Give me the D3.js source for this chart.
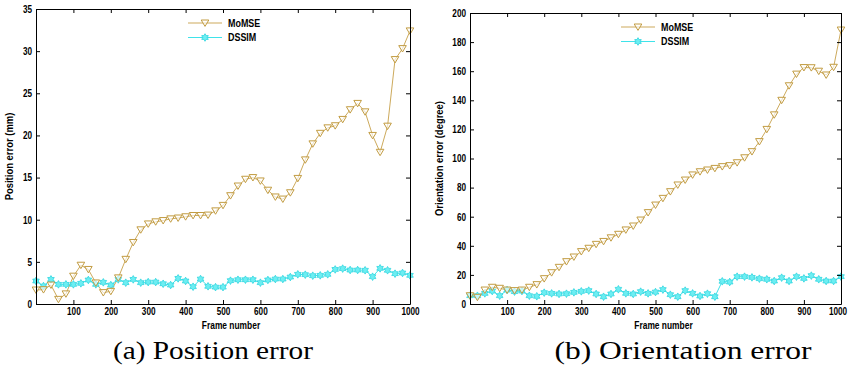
<!DOCTYPE html>
<html lang="en">
<head>
  <meta charset="UTF-8">
  <title>Position and orientation error</title>
  <script src="https://d3js.org/d3.v7.min.js"></script>
  <style>
    body {
      margin: 0;
      background: #fff;
    }
    svg text {
      fill: #000;
    }
    .tick text, .axis-label, .legend-item text {
      font-family: "Liberation Sans", Arial, sans-serif;
      font-weight: bold;
    }
    .caption {
      font-family: "Liberation Serif", "DejaVu Serif", serif;
    }
  </style>
</head>
<body>

<svg id="chart" width="851" height="366"></svg>

<script>
  // frame numbers (x values), one sample every 20 frames
  const frames = [0, 20, 40, 60, 80, 100, 120, 140, 160, 180, 200, 220, 240, 260, 280, 300, 320, 340, 360, 380,
    400, 420, 440, 460, 480, 500, 520, 540, 560, 580, 600, 620, 640, 660, 680, 700, 720, 740, 760, 780,
    800, 820, 840, 860, 880, 900, 920, 940, 960, 980, 1000];

  // (a) position error (mm)
  const posMoMSE = [1.66, 1.7, 2.25, 0.55, 1.2, 3.3, 4.6, 4.1, 2.5, 1.35, 1.5, 3.1, 5.3, 7.3, 8.8, 9.5, 9.75, 9.9, 10.1, 10.2,
    10.35, 10.5, 10.5, 10.55, 11.05, 11.7, 12.85, 14.0, 14.8, 15.0, 14.6, 13.5, 12.7, 12.45, 13.2, 14.9, 17.1, 19.0, 20.25, 20.9,
    21.15, 21.9, 23.05, 23.8, 22.8, 20.0, 18.0, 21.1, 29.0, 30.3, 32.4];
  const posDSSIM = [2.73, 2.13, 2.92, 2.33, 2.33, 2.33, 2.45, 2.85, 2.33, 2.57, 2.25, 2.92, 2.53, 2.92, 2.53, 2.6, 2.6, 2.4, 2.25, 3.04,
    2.73, 2.05, 2.96, 2.1, 2.0, 2.0, 2.77, 2.88, 2.88, 2.88, 2.53, 2.85, 2.96, 2.96, 3.2, 3.52, 3.48, 3.36, 3.4, 3.52,
    4.1, 4.2, 4.03, 4.03, 4.0, 3.24, 4.23, 4.0, 3.6, 3.68, 3.4];

  // (b) orientation error (degree)
  const oriMoMSE = [5.7, 4.6, 9.6, 11.5, 10.8, 9.6, 9.2, 9.6, 11.5, 13.3, 17.4, 21.5, 25.2, 29.1, 32.3, 36, 38.3, 41, 43, 45.5,
    47.9, 50.9, 53.6, 57.7, 62.8, 68, 72.6, 77.2, 81.8, 85.2, 88.7, 90.9, 92.1, 93.2, 94.4, 95.1, 97.1, 100.5, 104.7, 111.6,
    120, 130, 140, 150, 158, 162.5, 162.4, 160, 157.4, 162.7, 188.3];
  const oriDSSIM = [5.7, 5.7, 7.3, 8.9, 5.7, 9.6, 8.5, 8.9, 5.7, 5.3, 7.8, 7.3, 6.9, 7.1, 8.0, 8.7, 9.2, 6.9, 5.0, 6.9,
    10.1, 7.3, 6.9, 8.5, 7.3, 8.2, 9.9, 6.4, 5.0, 9.2, 7.3, 5.5, 7.1, 5.0, 15.6, 15.1, 18.8, 18.8, 18.3, 17.4,
    17.0, 15.8, 18.1, 15.8, 18.8, 17.6, 19.5, 17.0, 15.8, 15.8, 18.8];

  // tick labels
  const frameTicks = [100, 200, 300, 400, 500, 600, 700, 800, 900, 1000];
  const posTicks = [0, 5, 10, 15, 20, 25, 30, 35];
  const oriTicks = [0, 20, 40, 60, 80, 100, 120, 140, 160, 180, 200];

  const seriesNames = ["MoMSE", "DSSIM"];

  const gold = "#cdaa5c";
  const cyan = "#3fe3ea";

  const svg = d3.select("#chart");

  // squeeze bold sans text to look like a narrow face
  function narrow(sel, k = 0.8) {
    sel.each(function() {
      const w = this.getComputedTextLength();
      if (w > 0) d3.select(this).attr("textLength", w * k).attr("lengthAdjust", "spacingAndGlyphs");
    });
  }

  // six pointed star (MATLAB hexagram)
  function hexagram(r) {
    const pts = [];
    for (let i = 0; i < 12; i++) {
      const a = -Math.PI / 2 + i * Math.PI / 6;
      const rr = i % 2 === 0 ? r : r * 0.58;
      pts.push([rr * Math.cos(a), rr * Math.sin(a)]);
    }
    return "M" + pts.map(p => p.join(",")).join("L") + "Z";
  }
  const triDown = "M-3.8,-3L3.8,-3L0,3.4Z";

  function drawMarker(g, type) {
    if (type === 0) {
      g.append("path").attr("d", triDown)
        .attr("fill", "#fff").attr("fill-opacity", 0.6)
        .attr("stroke", "#c29c42").attr("stroke-width", 1);
    } else {
      g.append("path").attr("d", hexagram(3.8))
        .attr("fill", "#6deef2")
        .attr("stroke", "#2fd6e0").attr("stroke-width", 0.8);
    }
  }

  function drawPanel(p) {
    const x = d3.scaleLinear().domain([0, 1000]).range([p.left, p.right]);
    const y = d3.scaleLinear().domain([0, p.ymax]).range([p.bottom, p.top]);

    const g = svg.append("g");

    // lines + markers
    p.series.forEach((vals, si) => {
      const color = si === 0 ? gold : cyan;
      const line = d3.line()
        .x((d, i) => x(frames[i]))
        .y(d => y(d));
      g.append("path")
        .datum(vals)
        .attr("fill", "none")
        .attr("stroke", color)
        .attr("stroke-width", 1)
        .attr("d", line);
    });
    // draw DSSIM markers first, MoMSE triangles on top
    [1, 0].forEach(si => {
      g.append("g").selectAll("g")
        .data(p.series[si])
        .join("g")
        .attr("transform", (d, i) => `translate(${x(frames[i])},${y(d)})`)
        .each(function() { drawMarker(d3.select(this), si); });
    });

    // box axes with inward ticks
    const bottomAxis = g.append("g")
      .attr("transform", `translate(0,${p.bottom})`)
      .call(d3.axisBottom(x).tickValues(frameTicks).tickFormat(d3.format("d"))
        .tickSizeInner(-4).tickSizeOuter(0).tickPadding(4));
    const topAxis = g.append("g")
      .attr("transform", `translate(0,${p.top})`)
      .call(d3.axisTop(x).tickValues(frameTicks).tickSizeInner(-4).tickSizeOuter(0).tickFormat(""));
    const leftAxis = g.append("g")
      .attr("transform", `translate(${p.left},0)`)
      .call(d3.axisLeft(y).tickValues(p.yticks).tickSizeInner(-4).tickSizeOuter(0).tickPadding(4));
    const rightAxis = g.append("g")
      .attr("transform", `translate(${p.right},0)`)
      .call(d3.axisRight(y).tickValues(p.yticks).tickSizeInner(-4).tickSizeOuter(0).tickFormat(""));

    [bottomAxis, topAxis, leftAxis, rightAxis].forEach(a => {
      a.selectAll(".domain").attr("stroke", "#000");
      a.selectAll(".tick line").attr("stroke", "#000");
      a.selectAll(".tick text").attr("font-size", 10.5).attr("fill", "#000");
    });
    narrow(bottomAxis.selectAll(".tick text"), 0.78);
    narrow(leftAxis.selectAll(".tick text"), 0.78);
    // keep the last frame label inside the picture
    bottomAxis.selectAll(".tick text").filter(d => d === 1000).attr("dx", p.lastDx);

    // axis labels
    const xl = g.append("text")
      .attr("class", "axis-label")
      .attr("x", (p.left + p.right) / 2 + 8)
      .attr("y", 329)
      .attr("text-anchor", "middle")
      .attr("font-size", 10.5)
      .text("Frame number");
    const yl = g.append("text")
      .attr("class", "axis-label")
      .attr("transform", `translate(${p.ylabelX},${(p.top + p.bottom) / 2}) rotate(-90)`)
      .attr("text-anchor", "middle")
      .attr("font-size", 10.5)
      .text(p.ylabel);
    narrow(xl);
    narrow(yl, 0.9);

    // legend
    const legend = g.append("g").selectAll("g")
      .data(seriesNames)
      .join("g")
      .attr("class", "legend-item")
      .attr("transform", (d, i) => `translate(${p.legendX},${p.legendY + i * 14.5})`);
    legend.append("line")
      .attr("x1", 0).attr("x2", 34)
      .attr("stroke", (d, i) => i === 0 ? gold : cyan)
      .attr("stroke-width", 1.2);
    legend.each(function(d, i) {
      const m = d3.select(this).append("g").attr("transform", "translate(17,0)");
      drawMarker(m, i);
    });
    const lt = legend.append("text")
      .attr("x", 40)
      .attr("dy", "0.35em")
      .attr("font-size", 10.5)
      .text(d => d);
    narrow(lt, 0.85);

    // caption
    g.append("text")
      .attr("class", "caption")
      .attr("x", p.captionX)
      .attr("y", 359)
      .attr("text-anchor", "middle")
      .attr("font-size", 25)
      .attr("textLength", p.captionW)
      .attr("lengthAdjust", "spacingAndGlyphs")
      .text(p.caption);
  }

  drawPanel({
    left: 36, right: 410, top: 9, bottom: 304,
    ymax: 35, yticks: posTicks,
    series: [posMoMSE, posDSSIM],
    ylabel: "Position error (mm)", ylabelX: 13,
    legendX: 188, legendY: 23,
    caption: "(a) Position error", captionX: 213, captionW: 200,
    lastDx: 0
  });

  drawPanel({
    left: 470, right: 841, top: 13, bottom: 304,
    ymax: 200, yticks: oriTicks,
    series: [oriMoMSE, oriDSSIM],
    ylabel: "Orientation error (degree)", ylabelX: 443,
    legendX: 621, legendY: 27,
    caption: "(b) Orientation error", captionX: 683, captionW: 257,
    lastDx: -3.5
  });
</script>

</body>
</html>
